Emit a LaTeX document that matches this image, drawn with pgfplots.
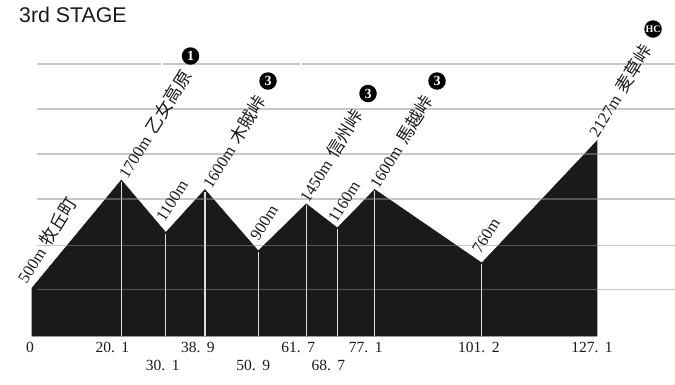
\documentclass[border=0pt]{standalone}
\usepackage{pgfplots}
\usepackage{fontspec}
\pgfplotsset{compat=1.18}
\setmainfont{Liberation Serif}
\newfontfamily\cjk{Noto Sans CJK JP}
\newfontfamily\hv{Liberation Sans}
\definecolor{prof}{HTML}{1A1A1A}
\definecolor{gridc}{HTML}{919191}
% tick label, held left of its tick by #3 pt as in the reference
\newcommand{\dg}[3]{#1.\hspace{6.5pt}#2\hspace*{#3pt}}
\newcommand{\lab}[4]{\node[rotate=58,anchor=west,inner sep=0pt,font=\fontsize{16.5}{16.5}\selectfont,text=prof] at (#1,{336-#2}) {#3\hspace{6pt}{\cjk\fontsize{17.5}{17.5}\selectfont #4}};}
\newcommand{\cat}[3]{\node[circle,fill=black,inner sep=0pt,minimum size=17.5pt,text=white,font=\bfseries\fontsize{14}{14}\selectfont] at (#1,{336-#2}) {#3};}
\begin{document}
\begin{tikzpicture}[x=1pt,y=1pt]
\path[use as bounding box] (0,-48) rectangle (675,336);
\begin{axis}[
  at={(32pt,0pt)},anchor=south west,
  scale only axis,width=643pt,height=336pt,
  xmin=0,xmax=144.66,ymin=0,ymax=3664,
  axis line style={draw=none},
  tick style={draw=none},
  ytick=\empty,
  axis x line*=bottom,
  xtick={0,20.1,38.9,61.7,77.1,101.2,127.1},
  xticklabels={0\hspace*{4pt},\dg{20}{1}{18},\dg{38}{9}{14},\dg{61}{7}{16},\dg{77}{1}{18},\dg{101}{2}{6},\dg{127}{1}{10}},
  extra x ticks={30.1,50.9,68.7},
  extra x tick labels={\dg{30}{1}{6},\dg{50}{9}{10},\dg{68}{7}{18}},
  extra x tick style={tick label style={yshift=-18pt}},
  x tick label style={font=\fontsize{15.5}{15.5}\selectfont,text=prof,inner sep=0pt,yshift=-6pt},
  clip=false,
]
% elevation profile
\addplot[draw=prof,line width=0.6pt,fill=prof] coordinates {
 (0,0) (0,523) (20.1,1700) (30.1,1128) (38.9,1597) (50.9,927) (61.7,1440) (68.7,1178) (77.1,1597) (101.2,796) (127.1,2127) (127.1,0)} -- cycle;
% stage markers
\addplot[draw=white!88!black,line width=1.2pt] coordinates {(20.1,0) (20.1,1675)};
\addplot[draw=white!88!black,line width=1.2pt] coordinates {(30.1,0) (30.1,1115)};
\addplot[draw=white!88!black,line width=1.2pt] coordinates {(38.9,0) (38.9,1575)};
\addplot[draw=white!88!black,line width=1.2pt] coordinates {(50.9,0) (50.9,915)};
\addplot[draw=white!88!black,line width=1.2pt] coordinates {(61.7,0) (61.7,1425)};
\addplot[draw=white!88!black,line width=1.2pt] coordinates {(68.7,0) (68.7,1165)};
\addplot[draw=white!88!black,line width=1.2pt] coordinates {(77.1,0) (77.1,1580)};
\addplot[draw=white!88!black,line width=1.2pt] coordinates {(101.2,0) (101.2,790)};
% grid
\addplot[draw=gridc,opacity=.5,line width=1.2pt] coordinates {(1.1,510) (144.66,510)};
\addplot[draw=gridc,opacity=.5,line width=1.2pt] coordinates {(1.1,990) (144.66,990)};
\addplot[draw=gridc,opacity=.5,line width=1.2pt] coordinates {(1.1,1494) (144.66,1494)};
\addplot[draw=gridc,opacity=.5,line width=1.2pt] coordinates {(1.1,1985) (144.66,1985)};
\addplot[draw=gridc,opacity=.5,line width=1.2pt] coordinates {(1.1,2476) (144.66,2476)};
\addplot[draw=gridc,opacity=.5,line width=1.2pt] coordinates {(1.1,2967) (29.1,2967)};
\addplot[draw=gridc,opacity=.5,line width=1.2pt] coordinates {(29.4,2967) (60.3,2967)};
\addplot[draw=gridc,opacity=.5,line width=1.2pt] coordinates {(60.7,2967) (144.66,2967)};
\end{axis}
\node[anchor=base west,inner sep=0pt,font=\hv\fontsize{21.3}{21.3}\selectfont,text=prof] at (19,{336-22}) {3rd STAGE};
\lab{21}{281}{500m}{牧丘町}
\lab{122}{176}{1700m}{乙女高原}
\lab{160}{220}{1100m}{}
\lab{206}{186}{1600m}{木賊峠}
\lab{254}{239}{900m}{}
\lab{303}{200}{1450m}{信州峠}
\lab{332}{221}{1160m}{}
\lab{373}{186}{1600m}{馬越峠}
\lab{476}{252}{760m}{}
\lab{592}{135}{2127m}{麦草峠}
\cat{190.5}{56}{1}
\cat{268}{81}{3}
\cat{368}{93.5}{3}
\cat{437}{81}{3}
\node[circle,fill=black,inner sep=0pt,minimum size=17.5pt,text=white,font=\bfseries\fontsize{10}{10}\selectfont] at (653,{336-29}) {HC};
\end{tikzpicture}
\end{document}
